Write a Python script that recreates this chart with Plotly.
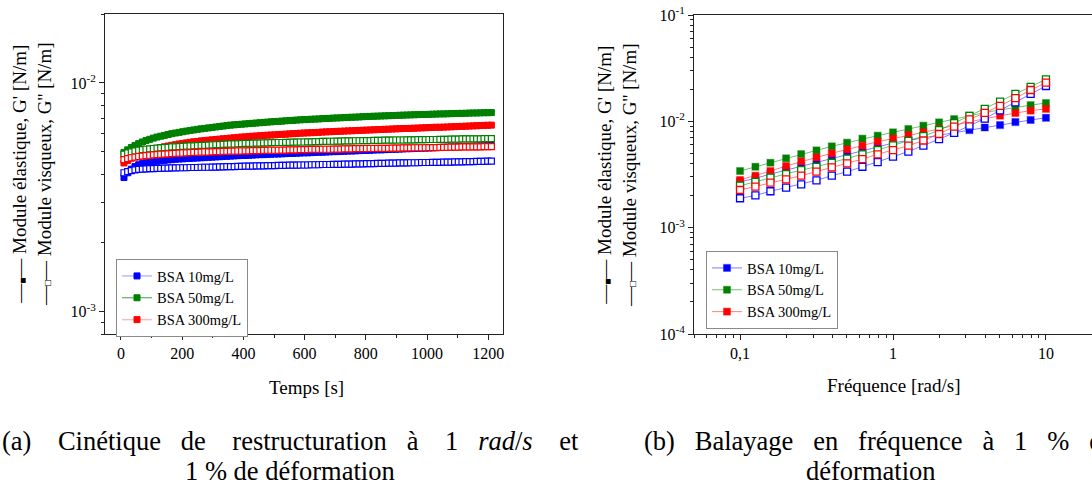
import math
import plotly.graph_objects as go

# ---------------- (a) Cinétique de restructuration ----------------
t_s = [10, 22, 34, 46, 58, 70, 82, 94, 106, 118,
       130, 142, 154, 166, 178, 190, 202, 214, 226, 238,
       250, 262, 274, 286, 298, 310, 322, 334, 346, 358,
       370, 382, 394, 406, 418, 430, 442, 454, 466, 478,
       490, 502, 514, 526, 538, 550, 562, 574, 586, 598,
       610, 622, 634, 646, 658, 670, 682, 694, 706, 718,
       730, 742, 754, 766, 778, 790, 802, 814, 826, 838,
       850, 862, 874, 886, 898, 910, 922, 934, 946, 958,
       970, 982, 994, 1006, 1018, 1030, 1042, 1054, 1066, 1078,
       1090, 1102, 1114, 1126, 1138, 1150, 1162, 1174, 1186, 1198,
       1210]

gp_a_10 = [0.00386, 0.00405, 0.00420, 0.00431, 0.00439, 0.00444, 0.00448, 0.00451, 0.00453, 0.00455,
           0.00457, 0.00459, 0.00461, 0.00462, 0.00464, 0.00465, 0.00466, 0.00467, 0.00468, 0.00469,
           0.00470, 0.00471, 0.00472, 0.00473, 0.00474, 0.00475, 0.00476, 0.00477, 0.00478, 0.00479,
           0.00480, 0.00481, 0.00482, 0.00482, 0.00483, 0.00484, 0.00485, 0.00486, 0.00486, 0.00487,
           0.00488, 0.00489, 0.00489, 0.00490, 0.00491, 0.00492, 0.00492, 0.00493, 0.00494, 0.00495,
           0.00495, 0.00496, 0.00497, 0.00498, 0.00498, 0.00499, 0.00500, 0.00501, 0.00501, 0.00502,
           0.00503, 0.00504, 0.00504, 0.00505, 0.00506, 0.00507, 0.00507, 0.00508, 0.00509, 0.00510,
           0.00510, 0.00511, 0.00512, 0.00513, 0.00513, 0.00514, 0.00515, 0.00516, 0.00516, 0.00517,
           0.00518, 0.00519, 0.00519, 0.00520, 0.00521, 0.00522, 0.00522, 0.00523, 0.00524, 0.00525,
           0.00525, 0.00526, 0.00527, 0.00528, 0.00528, 0.00529, 0.00530, 0.00531, 0.00531, 0.00532,
           0.00533]

gp_a_50 = [0.00497, 0.00510, 0.00522, 0.00533, 0.00543, 0.00552, 0.00560, 0.00567, 0.00574, 0.00580,
           0.00585, 0.00590, 0.00595, 0.00600, 0.00604, 0.00608, 0.00612, 0.00616, 0.00620, 0.00623,
           0.00627, 0.00630, 0.00633, 0.00636, 0.00639, 0.00642, 0.00645, 0.00648, 0.00651, 0.00654,
           0.00656, 0.00658, 0.00660, 0.00662, 0.00664, 0.00666, 0.00668, 0.00670, 0.00672, 0.00674,
           0.00676, 0.00678, 0.00679, 0.00681, 0.00683, 0.00685, 0.00686, 0.00688, 0.00690, 0.00691,
           0.00692, 0.00694, 0.00695, 0.00696, 0.00698, 0.00699, 0.00700, 0.00702, 0.00703, 0.00704,
           0.00706, 0.00707, 0.00708, 0.00709, 0.00710, 0.00712, 0.00713, 0.00714, 0.00715, 0.00716,
           0.00717, 0.00718, 0.00719, 0.00720, 0.00721, 0.00722, 0.00723, 0.00724, 0.00725, 0.00726,
           0.00727, 0.00728, 0.00728, 0.00729, 0.00730, 0.00731, 0.00732, 0.00732, 0.00733, 0.00734,
           0.00735, 0.00736, 0.00736, 0.00737, 0.00738, 0.00739, 0.00739, 0.00740, 0.00741, 0.00741,
           0.00742]

gp_a_300 = [0.00447, 0.00458, 0.00469, 0.00479, 0.00487, 0.00494, 0.00501, 0.00507, 0.00513, 0.00518,
            0.00522, 0.00526, 0.00530, 0.00534, 0.00537, 0.00541, 0.00544, 0.00547, 0.00550, 0.00553,
            0.00555, 0.00558, 0.00560, 0.00562, 0.00564, 0.00566, 0.00568, 0.00570, 0.00572, 0.00574,
            0.00576, 0.00578, 0.00580, 0.00581, 0.00583, 0.00585, 0.00586, 0.00588, 0.00589, 0.00591,
            0.00592, 0.00593, 0.00595, 0.00596, 0.00597, 0.00599, 0.00600, 0.00601, 0.00603, 0.00604,
            0.00605, 0.00606, 0.00607, 0.00608, 0.00610, 0.00611, 0.00612, 0.00613, 0.00614, 0.00615,
            0.00616, 0.00617, 0.00618, 0.00619, 0.00620, 0.00621, 0.00622, 0.00623, 0.00624, 0.00625,
            0.00626, 0.00627, 0.00628, 0.00629, 0.00630, 0.00631, 0.00632, 0.00632, 0.00633, 0.00634,
            0.00635, 0.00636, 0.00637, 0.00638, 0.00639, 0.00640, 0.00640, 0.00641, 0.00642, 0.00643,
            0.00644, 0.00645, 0.00646, 0.00647, 0.00648, 0.00649, 0.00650, 0.00651, 0.00652, 0.00653,
            0.00654]

gpp_a_10 = [0.00405, 0.00410, 0.00414, 0.00417, 0.00419, 0.00420, 0.00421, 0.00422, 0.00422, 0.00423,
            0.00423, 0.00424, 0.00424, 0.00425, 0.00425, 0.00426, 0.00426, 0.00426, 0.00427, 0.00427,
            0.00427, 0.00428, 0.00428, 0.00428, 0.00429, 0.00429, 0.00430, 0.00430, 0.00431, 0.00431,
            0.00431, 0.00432, 0.00432, 0.00433, 0.00433, 0.00433, 0.00434, 0.00434, 0.00434, 0.00435,
            0.00435, 0.00435, 0.00436, 0.00436, 0.00436, 0.00437, 0.00437, 0.00437, 0.00438, 0.00438,
            0.00438, 0.00439, 0.00439, 0.00439, 0.00440, 0.00440, 0.00440, 0.00441, 0.00441, 0.00441,
            0.00442, 0.00442, 0.00442, 0.00443, 0.00443, 0.00443, 0.00444, 0.00444, 0.00444, 0.00445,
            0.00445, 0.00445, 0.00446, 0.00446, 0.00446, 0.00447, 0.00447, 0.00447, 0.00448, 0.00448,
            0.00448, 0.00449, 0.00449, 0.00449, 0.00450, 0.00450, 0.00450, 0.00451, 0.00451, 0.00451,
            0.00452, 0.00452, 0.00452, 0.00453, 0.00453, 0.00453, 0.00454, 0.00454, 0.00454, 0.00455,
            0.00455]

gpp_a_50 = [0.00488, 0.00494, 0.00500, 0.00504, 0.00508, 0.00511, 0.00513, 0.00515, 0.00517, 0.00519,
            0.00520, 0.00522, 0.00523, 0.00525, 0.00526, 0.00527, 0.00528, 0.00529, 0.00530, 0.00531,
            0.00532, 0.00533, 0.00534, 0.00535, 0.00536, 0.00537, 0.00538, 0.00539, 0.00540, 0.00541,
            0.00541, 0.00542, 0.00543, 0.00544, 0.00544, 0.00545, 0.00546, 0.00546, 0.00547, 0.00547,
            0.00548, 0.00548, 0.00549, 0.00549, 0.00550, 0.00550, 0.00551, 0.00551, 0.00552, 0.00552,
            0.00553, 0.00553, 0.00554, 0.00554, 0.00555, 0.00555, 0.00556, 0.00556, 0.00557, 0.00557,
            0.00558, 0.00558, 0.00558, 0.00559, 0.00559, 0.00560, 0.00560, 0.00560, 0.00561, 0.00561,
            0.00561, 0.00562, 0.00562, 0.00562, 0.00563, 0.00563, 0.00563, 0.00564, 0.00564, 0.00564,
            0.00565, 0.00565, 0.00565, 0.00566, 0.00566, 0.00566, 0.00567, 0.00567, 0.00567, 0.00568,
            0.00568, 0.00568, 0.00569, 0.00569, 0.00569, 0.00570, 0.00570, 0.00570, 0.00571, 0.00571,
            0.00571]

gpp_a_300 = [0.00462, 0.00467, 0.00471, 0.00474, 0.00477, 0.00479, 0.00481, 0.00483, 0.00485, 0.00486,
             0.00488, 0.00489, 0.00490, 0.00491, 0.00492, 0.00493, 0.00494, 0.00495, 0.00496, 0.00497,
             0.00497, 0.00498, 0.00499, 0.00499, 0.00500, 0.00501, 0.00501, 0.00502, 0.00502, 0.00503,
             0.00503, 0.00504, 0.00504, 0.00505, 0.00505, 0.00506, 0.00506, 0.00506, 0.00507, 0.00507,
             0.00508, 0.00508, 0.00508, 0.00509, 0.00509, 0.00510, 0.00510, 0.00510, 0.00511, 0.00511,
             0.00511, 0.00512, 0.00512, 0.00512, 0.00513, 0.00513, 0.00513, 0.00514, 0.00514, 0.00514,
             0.00515, 0.00515, 0.00515, 0.00516, 0.00516, 0.00516, 0.00517, 0.00517, 0.00517, 0.00518,
             0.00518, 0.00518, 0.00518, 0.00519, 0.00519, 0.00519, 0.00520, 0.00520, 0.00520, 0.00521,
             0.00521, 0.00521, 0.00521, 0.00522, 0.00522, 0.00522, 0.00523, 0.00523, 0.00523, 0.00524,
             0.00524, 0.00524, 0.00525, 0.00525, 0.00525, 0.00526, 0.00526, 0.00526, 0.00527, 0.00527,
             0.00527]

# ---------------- (b) Balayage en fréquence ----------------
freq = [0.1, 0.126, 0.158, 0.2, 0.251, 0.316, 0.398, 0.501, 0.631, 0.794,
        1.0, 1.26, 1.58, 2.0, 2.51, 3.16, 3.98, 5.01, 6.31, 7.94, 10.0]

gp_b_10 = [0.00270, 0.00291, 0.00319, 0.00348, 0.00380, 0.00411, 0.00449, 0.00490, 0.00533, 0.00578,
           0.00625, 0.00662, 0.00700, 0.00740, 0.00782, 0.00828, 0.00875, 0.00923, 0.00985, 0.01030, 0.01080]
gp_b_50 = [0.00341, 0.00374, 0.00408, 0.00449, 0.00492, 0.00533, 0.00582, 0.00630, 0.00687, 0.00733,
           0.00788, 0.00847, 0.00910, 0.00978, 0.01050, 0.01130, 0.01210, 0.01280, 0.01355, 0.01420, 0.01486]
gp_b_300 = [0.00281, 0.00308, 0.00341, 0.00380, 0.00420, 0.00458, 0.00500, 0.00546, 0.00590, 0.00644,
            0.00688, 0.00743, 0.00788, 0.00847, 0.00920, 0.00990, 0.01057, 0.01130, 0.01197, 0.01260, 0.01310]
gpp_b_10 = [0.00189, 0.00201, 0.00220, 0.00238, 0.00255, 0.00279, 0.00308, 0.00336, 0.00374, 0.00414,
            0.00465, 0.00520, 0.00590, 0.00680, 0.00780, 0.00910, 0.01060, 0.01270, 0.01510, 0.01810, 0.02150]
gpp_b_50 = [0.00248, 0.00270, 0.00295, 0.00319, 0.00348, 0.00374, 0.00408, 0.00445, 0.00490, 0.00537,
            0.00595, 0.00655, 0.00725, 0.00825, 0.00965, 0.01125, 0.01310, 0.01530, 0.01810, 0.02110, 0.02480]
gpp_b_300 = [0.00226, 0.00243, 0.00265, 0.00285, 0.00308, 0.00336, 0.00369, 0.00403, 0.00442, 0.00490,
             0.00537, 0.00590, 0.00660, 0.00760, 0.00890, 0.01044, 0.01200, 0.01400, 0.01650, 0.01970, 0.02310]

series_names = ["BSA 10mg/L", "BSA 50mg/L", "BSA 300mg/L"]

# tick labels
a_xticks = [0, 200, 400, 600, 800, 1000, 1200]
a_xminor = [100, 300, 500, 700, 900, 1100]
a_yticks = [0.001, 0.01]
a_yticktext = ["10<sup>-3</sup>", "10<sup>-2</sup>"]
b_xticks = [0.1, 1, 10]
b_xticktext = ["0,1", "1", "10"]
b_yticks = [0.0001, 0.001, 0.01, 0.1]
b_yticktext = ["10<sup>-4</sup>", "10<sup>-3</sup>", "10<sup>-2</sup>", "10<sup>-1</sup>"]

# ---------------- styling ----------------
W, H = 1092, 490
FONT = "Liberation Serif"
AX = "#222222"
COLORS = ["#0000ff", "#008000", "#ff0000"]
A_LINES = ["rgba(60,60,255,0.35)", "rgba(0,128,0,0.75)", "rgba(255,60,60,0.35)"]
B_LINES = ["rgba(40,40,255,0.6)", "rgba(0,140,0,0.55)", "rgba(255,40,40,0.6)"]
HALO = ["rgba(0,0,255,0.35)", "rgba(0,128,0,0.35)", "rgba(255,0,0,0.35)"]


def px(x):
    return x / W


def py(y):
    return 1 - y / H


def log_minor(decades):
    out = []
    for d in decades:
        for m in range(2, 10):
            out.append(m * 10 ** d)
    return out


fig = go.Figure()

for i, ys in enumerate([gp_a_10, gp_a_50, gp_a_300]):
    fig.add_trace(go.Scatter(
        x=t_s, y=ys, mode="lines+markers", name=series_names[i],
        xaxis="x", yaxis="y", legend="legend",
        line=dict(color=A_LINES[i], width=1.5 if i != 1 else 1),
        marker=dict(symbol="square", size=6, color=COLORS[i],
                    line=dict(color=COLORS[i], width=1)),
        showlegend=True))
for i, ys in enumerate([gpp_a_10, gpp_a_50, gpp_a_300]):
    fig.add_trace(go.Scatter(
        x=t_s, y=ys, mode="lines+markers", name=series_names[i],
        xaxis="x", yaxis="y",
        line=dict(color=A_LINES[i], width=1),
        marker=dict(symbol="square", size=6, color="white",
                    line=dict(color=COLORS[i], width=1.2)),
        showlegend=False))

for i, ys in enumerate([gp_b_10, gp_b_50, gp_b_300]):
    fig.add_trace(go.Scatter(
        x=freq, y=ys, mode="lines+markers", name=series_names[i],
        xaxis="x2", yaxis="y2", legend="legend2",
        line=dict(color=B_LINES[i], width=1),
        marker=dict(symbol="square", size=7, color=COLORS[i],
                    line=dict(color=HALO[i], width=1.2)),
        showlegend=True))
for i, ys in enumerate([gpp_b_10, gpp_b_50, gpp_b_300]):
    fig.add_trace(go.Scatter(
        x=freq, y=ys, mode="lines+markers", name=series_names[i],
        xaxis="x2", yaxis="y2",
        line=dict(color=B_LINES[i], width=1),
        marker=dict(symbol="square", size=7, color="white",
                    line=dict(color=COLORS[i], width=1.3)),
        showlegend=False))

tickfont = dict(family=FONT, size=16, color="black")
common = dict(showgrid=False, zeroline=False, showline=True, linecolor=AX, linewidth=1,
              ticks="outside", ticklen=5, tickwidth=1, tickcolor=AX, tickfont=tickfont,
              automargin=False)
minor_common = dict(tickmode="array", ticks="outside", ticklen=3, tickwidth=1,
                    tickcolor=AX, showgrid=False)

fig.update_layout(
    width=W, height=H, margin=dict(l=0, r=0, t=0, b=0, autoexpand=False),
    paper_bgcolor="white", plot_bgcolor="white",
    font=dict(family=FONT, size=16, color="black"),
    xaxis=dict(domain=[px(105), px(503)], anchor="y", range=[-52, 1248],
               tickmode="array", tickvals=a_xticks, mirror=True,
               minor=dict(tickvals=a_xminor, **minor_common), **common),
    yaxis=dict(domain=[py(334), py(14)], anchor="x", type="log",
               range=[math.log10(8e-4), math.log10(2e-2)],
               tickmode="array", tickvals=a_yticks, ticktext=a_yticktext, mirror=True,
               minor=dict(tickvals=log_minor([-4, -3, -2]), **minor_common), **common),
    xaxis2=dict(domain=[px(694), 1.0], anchor="y2", type="log",
                range=[math.log10(0.05), math.log10(20)],
                tickmode="array", tickvals=b_xticks, ticktext=b_xticktext, mirror=True,
                minor=dict(tickvals=log_minor([-2, -1, 0, 1]), **minor_common), **common),
    yaxis2=dict(domain=[py(334), py(15)], anchor="x2", type="log",
                range=[-4, -1],
                tickmode="array", tickvals=b_yticks, ticktext=b_yticktext, mirror=False,
                minor=dict(tickvals=log_minor([-4, -3, -2]), **minor_common), **common),
    legend=dict(x=px(116), y=py(259), xanchor="left", yanchor="top",
                bgcolor="white", bordercolor="#8a8a8a", borderwidth=1,
                font=dict(family=FONT, size=14.5, color="black"),
                itemwidth=30, tracegroupgap=0),
    legend2=dict(x=px(706), y=py(251), xanchor="left", yanchor="top",
                 bgcolor="white", bordercolor="#8a8a8a", borderwidth=1,
                 font=dict(family=FONT, size=14.5, color="black"),
                 itemwidth=30, tracegroupgap=0),
)

title_font = dict(family=FONT, size=19, color="black")
SQ_F = "<span style='font-size:10px'>■</span>"
SQ_O = "<span style='font-size:10px'>□</span>"
ytitle = ("—" + SQ_F + "— Module élastique, G' [N/m]<br>"
          "—" + SQ_O + "— Module visqueux, G'' [N/m]")
annos = [
    dict(x=px(32), y=py(174), text=ytitle, textangle=-90, font=title_font),
    dict(x=px(617), y=py(175), text=ytitle, textangle=-90, font=title_font),
    dict(x=px(306), y=py(387), text="Temps [s]", font=title_font),
    dict(x=px(893), y=py(385), text="Fréquence [rad/s]", font=title_font),
]

N3 = "\u00a0\u00a0\u00a0"
N4 = "\u00a0\u00a0\u00a0\u00a0"
cap_font = dict(family=FONT, size=26.5, color="black")
cap_a1 = ("(a)" + N4 + "Cinétique" + N3 + "de" + N4 + "restructuration" + N3 + "à"
          + N4 + "1" + N3 + "<i>rad</i>/<i>s</i>" + N4 + "et")
cap_b1 = ("(b)" + N3 + "Balayage" + N3 + "en" + N3 + "fréquence" + N3 + "à"
          + N3 + "1" + N3 + "%" + N3 + "de")
annos += [
    dict(x=px(290), y=py(441), text=cap_a1, font=cap_font),
    dict(x=px(290), y=py(471), text="1 % de déformation", font=cap_font),
    dict(x=px(642), y=py(441), text=cap_b1, font=cap_font, xanchor="left"),
    dict(x=px(871), y=py(471), text="déformation", font=cap_font),
]
for a in annos:
    a.setdefault("xanchor", "center")
    a.setdefault("yanchor", "middle")
    fig.add_annotation(xref="paper", yref="paper", showarrow=False, **a)

fig.write_html("out.html", config={"displayModeBar": False},
               post_script="document.body.style.margin='0px';")
